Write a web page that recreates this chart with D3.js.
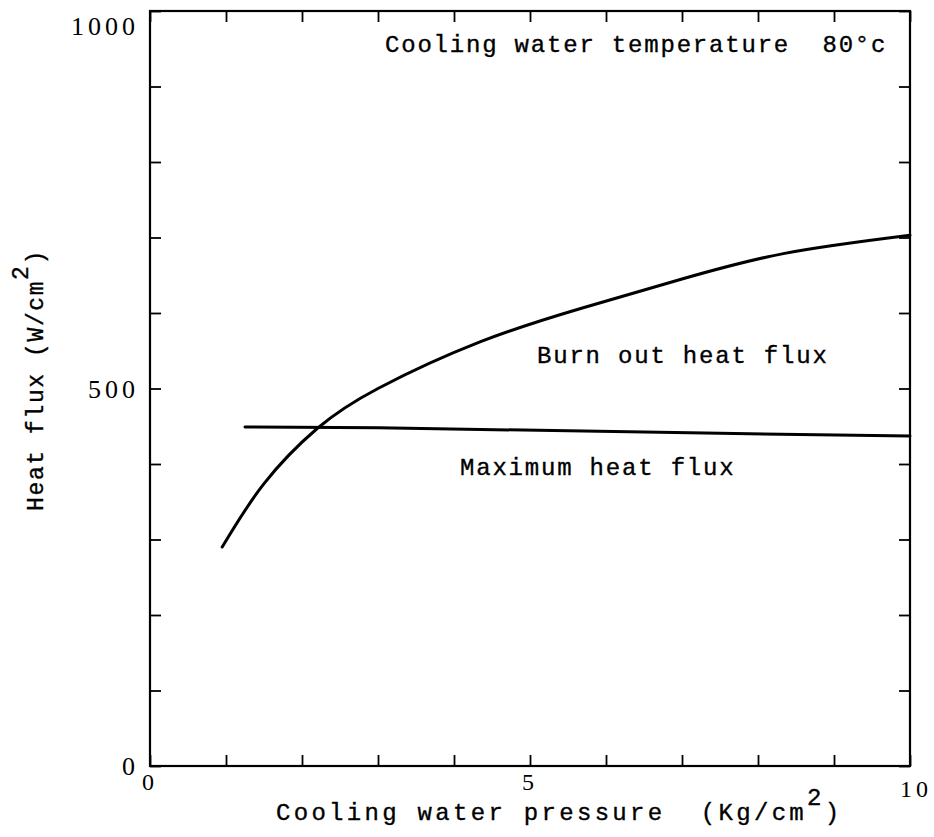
<!DOCTYPE html>
<html>
<head>
<meta charset="utf-8">
<script src="https://cdn.jsdelivr.net/npm/d3@7"></script>
<style>
  body { margin: 0; background: #fff; }
  .mono { font-family: "Liberation Mono", "DejaVu Sans Mono", monospace; fill: #000; stroke: #000; stroke-width: 0.35; }
  .num { font-family: "Liberation Serif", "DejaVu Serif", serif; fill: #000; }
</style>
</head>
<body>
<svg id="chart"></svg>
<script>
// burn out heat flux curve
var pressure = [0.95, 1.5, 2.2, 3.0, 4.35, 5.7, 7.0, 8.35, 10];
var burnout  = [290, 374, 447, 500, 562, 607, 645, 679, 703];
// maximum heat flux line
var maxPressure = [1.25, 3.0, 7.3, 10];
var maxFlux     = [449, 448, 441, 437];

var xTicks = [0,1,2,3,4,5,6,7,8,9,10];
var yTicks = [0,100,200,300,400,500,600,700,800,900,1000];
var xLabels = ['0', '5', '10'];
var yLabels = ['0', '500', '1000'];

var W = 934, H = 837;
var mLeft = 150, mRight = 910, mTop = 11, mBottom = 766;

var svg = d3.select('#chart')
    .attr('width', W)
    .attr('height', H);

svg.append('rect').attr('width', W).attr('height', H).attr('fill', '#fff');

var x = d3.scaleLinear().domain([0, 10]).range([mLeft, mRight]);
var y = d3.scaleLinear().domain([0, 1000]).range([mBottom, mTop]);

// ticks on all four sides, pointing inward
svg.append('g').attr('transform', 'translate(0,' + mBottom + ')')
    .call(d3.axisBottom(x).tickValues(xTicks).tickSize(-11).tickFormat(''));
svg.append('g').attr('transform', 'translate(0,' + mTop + ')')
    .call(d3.axisTop(x).tickValues(xTicks).tickSize(-11).tickFormat(''));
svg.append('g').attr('transform', 'translate(' + mLeft + ',0)')
    .call(d3.axisLeft(y).tickValues(yTicks).tickSize(-11).tickFormat(''));
svg.append('g').attr('transform', 'translate(' + mRight + ',0)')
    .call(d3.axisRight(y).tickValues(yTicks).tickSize(-11).tickFormat(''));
svg.selectAll('.domain').remove();
svg.selectAll('.tick line').attr('stroke', '#000').attr('stroke-width', 1.8);

svg.append('rect')
    .attr('x', mLeft).attr('y', mTop)
    .attr('width', mRight - mLeft).attr('height', mBottom - mTop)
    .attr('fill', 'none').attr('stroke', '#000').attr('stroke-width', 2.2);

// tick labels
svg.selectAll('.ylab').data(yLabels).enter().append('text')
    .attr('class', 'num')
    .attr('x', 139)
    .attr('y', function(d) { return Math.max(y(+d), 26) + 9; })
    .attr('text-anchor', 'end')
    .attr('font-size', 26)
    .attr('letter-spacing', 4)
    .text(function(d) { return d; });

svg.selectAll('.xlab').data(xLabels).enter().append('text')
    .attr('class', 'num')
    .attr('x', function(d) { return x(+d) + (d === '10' ? 6 : 0); })
    .attr('y', function(d) { return d === '10' ? 797 : 790; })
    .attr('text-anchor', 'middle')
    .attr('font-size', 24)
    .attr('letter-spacing', 4)
    .text(function(d) { return d; });

// curves
var line = d3.line()
    .x(function(d) { return x(d[0]); })
    .y(function(d) { return y(d[1]); });

svg.append('path')
    .datum(d3.zip(pressure, burnout))
    .attr('d', line.curve(d3.curveNatural))
    .attr('fill', 'none').attr('stroke', '#000').attr('stroke-width', 3)
    .attr('stroke-linecap', 'round');

svg.append('path')
    .datum(d3.zip(maxPressure, maxFlux))
    .attr('d', line.curve(d3.curveLinear))
    .attr('fill', 'none').attr('stroke', '#000').attr('stroke-width', 3)
    .attr('stroke-linecap', 'round');

// texts
function monoText(tx, ty, str, size, ls) {
    return svg.append('text')
        .attr('class', 'mono')
        .attr('x', tx).attr('y', ty)
        .attr('font-size', size)
        .attr('letter-spacing', ls)
        .attr('xml:space', 'preserve')
        .text(str);
}

monoText(385, 52, 'Cooling water temperature  80\u00b0c', 24, 1.8);
monoText(537, 363, 'Burn out heat flux', 24, 1.8);
monoText(460, 475, 'Maximum heat flux', 24, 1.8);

var xt = monoText(276, 820, 'Cooling water pressure  (Kg/cm', 24, 3.3);
xt.append('tspan').attr('dy', -15).text('2');
xt.append('tspan').attr('dy', 15).text(')');

var yt = svg.append('text')
    .attr('class', 'mono')
    .attr('transform', 'translate(43,380) rotate(-90)')
    .attr('text-anchor', 'middle')
    .attr('font-size', 23)
    .attr('letter-spacing', 1.6)
    .attr('xml:space', 'preserve')
    .text('Heat flux (W/cm');
yt.append('tspan').attr('dy', -15).text('2');
yt.append('tspan').attr('dy', 15).text(')');
</script>
</body>
</html>
